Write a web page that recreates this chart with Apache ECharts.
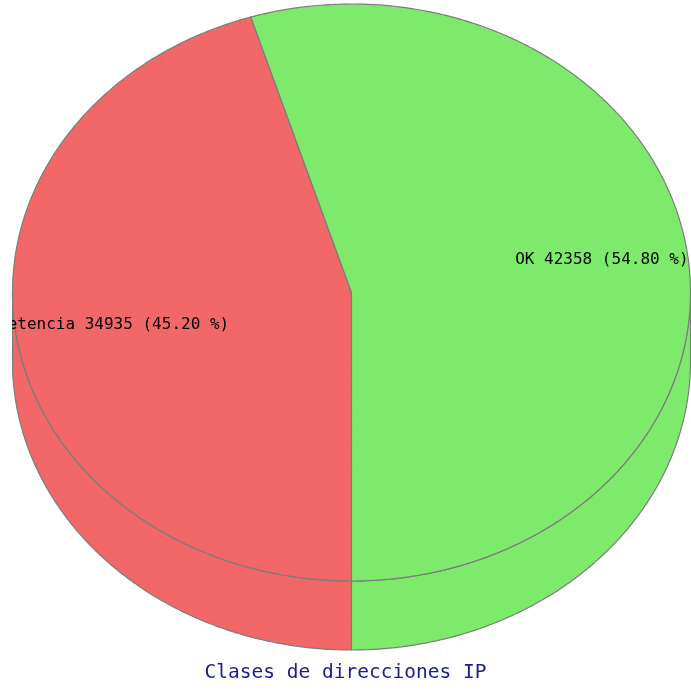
<!DOCTYPE html>
<html>
<head>
<meta charset="utf-8">
<style>
  html, body { margin: 0; padding: 0; background: #ffffff; }
  #chart { width: 691px; height: 690px; }
</style>
<script src="https://cdn.jsdelivr.net/npm/echarts@6/dist/echarts.min.js"></script>
</head>
<body>
<div id="chart"></div>
<script>
// Slice data
const sliceNames = ['Competencia', 'OK'];
const sliceValues = [34935, 42358];
const sliceColors = ['#f26868', '#7eea6c'];
const chartTitle = 'Clases de direcciones IP';

// Tilted-pie geometry (pixels)
const CX = 351.5, CY = 292.5, RX = 339, RY = 288.5, DEPTH = 69;
const START_DEG = 90;          // first slice begins at 6 o'clock, clockwise
const LABEL_R = 0.75;          // label centre, fraction of radius
const EDGE = '#7c7c7c';

const total = sliceValues.reduce((a, b) => a + b, 0);
const startAngles = [];
sliceValues.reduce((acc, v, i) => { startAngles[i] = acc; return acc + v / total * 360; }, START_DEG);

function pt(deg, dy, f) {
  const r = deg * Math.PI / 180;
  const k = f == null ? 1 : f;
  return [CX + RX * k * Math.cos(r), CY + RY * k * Math.sin(r) + (dy || 0)];
}
function arc(a0, a1, dy) {
  const pts = [];
  const n = Math.max(2, Math.ceil(Math.abs(a1 - a0) / 0.5));
  for (let i = 0; i <= n; i++) pts.push(pt(a0 + (a1 - a0) * i / n, dy));
  return pts;
}

function renderSlice(params, api) {
  const i = params.dataIndex;
  const value = api.value(0);
  const a0 = startAngles[i];
  const a1 = a0 + value / total * 360;
  const color = sliceColors[i];
  const children = [];

  // front wall: parts of the arc facing the viewer (0..180 deg, y down)
  for (let k = 0; k <= 1; k++) {
    const lo = Math.max(a0, 360 * k), hi = Math.min(a1, 360 * k + 180);
    if (hi > lo) {
      const pts = arc(lo, hi, 0).concat(arc(hi, lo, DEPTH));
      children.push({
        type: 'polygon', z2: 1,
        shape: { points: pts },
        style: { fill: color, stroke: EDGE, lineWidth: 1.2 }
      });
    }
  }

  // top face
  children.push({
    type: 'polygon', z2: 2,
    shape: { points: [[CX, CY]].concat(arc(a0, a1, 0)) },
    style: { fill: color, stroke: EDGE, lineWidth: 1.2 }
  });

  // value label
  const mid = (a0 + a1) / 2;
  const lp = pt(mid, 0, LABEL_R);
  const pct = (value / total * 100).toFixed(2);
  children.push({
    type: 'text', z2: 3,
    x: lp[0] - 1, y: lp[1],
    style: {
      text: sliceNames[i] + ' ' + value + ' (' + pct + ' %)',
      fill: '#000000',
      font: '16px "DejaVu Sans Mono"',
      align: 'center',
      verticalAlign: 'middle'
    }
  });

  return { type: 'group', children: children };
}

const chart = echarts.init(document.getElementById('chart'), null, { renderer: 'canvas' });
chart.setOption({
  animation: false,
  backgroundColor: '#ffffff',
  title: {
    text: chartTitle,
    left: 'center',
    top: 658,
    textStyle: {
      color: '#1c1c94',
      fontSize: 19.5,
      fontWeight: 'normal',
      fontFamily: 'DejaVu Sans Mono'
    }
  },
  // blank margin strip left of the pie
  graphic: [{
    type: 'rect', zlevel: 1, z: 100,
    shape: { x: 0, y: 300, width: 12, height: 50 },
    style: { fill: '#ffffff' }
  }],
  series: [{
    type: 'custom',
    coordinateSystem: 'none',
    silent: true,
    data: sliceValues.map((v, i) => ({ name: sliceNames[i], value: [v] })),
    renderItem: renderSlice
  }]
});
</script>
</body>
</html>
